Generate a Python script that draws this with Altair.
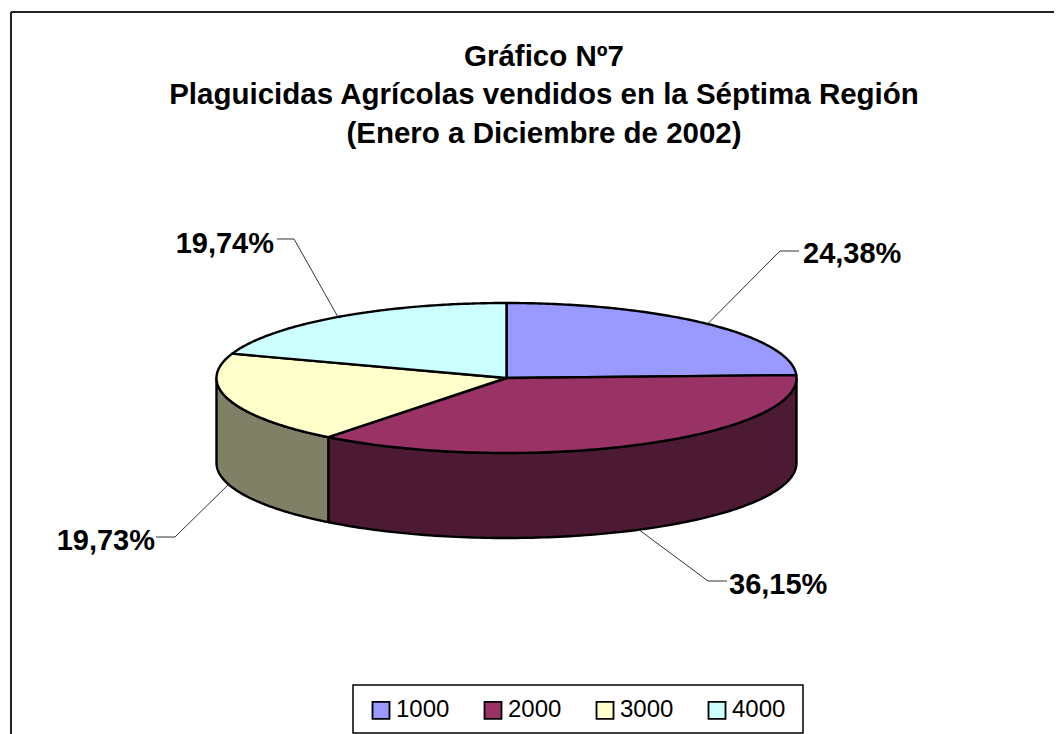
import numpy as np
import pandas as pd
import altair as alt

series = ["1000", "2000", "3000", "4000"]
shares = [24.38, 36.15, 19.73, 19.74]
labels = ["24,38%", "36,15%", "19,73%", "19,74%"]
top_colors = ["#9999FF", "#993366", "#FFFFCC", "#CCFFFF"]
side_colors = ["#4D4D80", "#4C1A33", "#808066", "#668080"]
title_lines = [
    "Gráfico Nº7",
    "Plaguicidas Agrícolas vendidos en la Séptima Región",
    "(Enero a Diciembre de 2002)",
]

CX, CY, RX, RY, DEPTH = 506.5, 378.0, 290.0, 75.0, 85.0
W, H = 1054, 734

label_pos = [
    dict(x=803, y=254, align="left", elbow=(780, 251), end=(799, 251), front=False),
    dict(x=729, y=585, align="left", elbow=(708, 581), end=(727, 581), front=True),
    dict(x=155, y=541, align="right", elbow=(175, 537), end=(156, 537), front=True),
    dict(x=274, y=244, align="right", elbow=(294, 239), end=(277, 239), front=False),
]


def ell(t, drop=0.0):
    r = np.radians(t)
    return CX + RX * np.sin(r), CY - RY * np.cos(r) + drop


xs = alt.X("x:Q", scale=alt.Scale(domain=[8, W]), axis=None)
ys = alt.Y("y:Q", scale=alt.Scale(domain=[H, 8]), axis=None)

edges = np.concatenate([[0], np.cumsum(shares) / sum(shares) * 360])

top_rows, layers = [], []
for i, s in enumerate(series):
    a, b = edges[i], edges[i + 1]
    ts = np.linspace(a, b, 120)
    px, py = ell(ts)
    pts = [(CX, CY)] + list(zip(px, py)) + [(CX, CY)]
    for k, (x, y) in enumerate(pts):
        top_rows.append(dict(serie=s, x=x, y=y, k=k))
    lo, hi = max(a, 90), min(b, 270)
    if lo < hi:
        ts = np.linspace(lo, hi, 120)
        ux, uy = ell(ts)
        dx, dy = ell(ts[::-1], DEPTH)
        poly = list(zip(ux, uy)) + list(zip(dx, dy)) + [(ux[0], uy[0])]
        df = pd.DataFrame([dict(x=x, y=y, k=k) for k, (x, y) in enumerate(poly)])
        layers.append(
            alt.Chart(df)
            .mark_line(fill=side_colors[i], stroke="#000000", strokeWidth=2.4, strokeJoin="round")
            .encode(x=xs, y=ys, order="k:Q")
        )

tops = (
    alt.Chart(pd.DataFrame(top_rows))
    .mark_line(stroke="#000000", strokeWidth=2.4, strokeJoin="round")
    .encode(
        x=xs,
        y=ys,
        order="k:Q",
        detail="serie:N",
        fill=alt.Fill(
            "serie:N",
            scale=alt.Scale(domain=series, range=top_colors),
            legend=alt.Legend(
                title=None,
                orient="none",
                legendX=361,
                legendY=690,
                direction="horizontal",
                columns=4,
                columnPadding=30,
                symbolType="square",
                symbolSize=289,
                symbolStrokeColor="#000000",
                symbolStrokeWidth=1.8,
                symbolOffset=0,
                labelFont="Liberation Sans",
                labelFontSize=24,
                labelColor="#000000",
                labelOffset=3,
                padding=0,
            ),
        ),
    )
)
layers.append(tops)

# legend frame
layers.append(
    alt.Chart(pd.DataFrame([dict(x=353, x2=803, y=685, y2=733)]))
    .mark_rect(filled=False, stroke="#000000", strokeWidth=1.5)
    .encode(x=xs, y=ys, x2="x2:Q", y2="y2:Q")
)

lead_rows = []
for i, p in enumerate(label_pos):
    mid = (edges[i] + edges[i + 1]) / 2
    ax, ay = ell(mid, DEPTH if p["front"] else 0)
    for k, (x, y) in enumerate([(ax, ay), p["elbow"], p["end"]]):
        lead_rows.append(dict(serie=series[i], x=x, y=y, k=k))
    layers.append(
        alt.Chart(pd.DataFrame([dict(x=p["x"], y=p["y"], t=labels[i])]))
        .mark_text(
            font="Liberation Sans",
            fontWeight="bold",
            fontSize=29,
            color="#000000",
            align=p["align"],
            baseline="middle",
        )
        .encode(x=xs, y=ys, text="t:N")
    )

layers.append(
    alt.Chart(pd.DataFrame(lead_rows))
    .mark_line(stroke="#333333", strokeWidth=1)
    .encode(x=xs, y=ys, order="k:Q", detail="serie:N")
)

# chart frame: top and left edges only are in view
layers.append(
    alt.Chart(pd.DataFrame([dict(x=11, y=12, x2=W, y2=12), dict(x=11, y=12, x2=11, y2=H)]))
    .mark_rule(color="#222222", strokeWidth=2)
    .encode(x=xs, y=ys, x2="x2:Q", y2="y2:Q")
)

layers.append(
    alt.Chart(pd.DataFrame([dict(x=544, y=56.5 + 38.5 * j, t=t) for j, t in enumerate(title_lines)]))
    .mark_text(font="Liberation Sans", fontWeight="bold", fontSize=29.5, color="#000000", baseline="middle")
    .encode(x=xs, y=ys, text="t:N")
)

chart = (
    alt.layer(*layers)
    .properties(
        width=W - 8,
        height=H - 8,
        padding=0,
        autosize=alt.AutoSizeParams(type="none"),
        background="#ffffff",
    )
    .configure_view(stroke=None)
)

chart.save("out.html", embed_options={"renderer": "svg", "actions": False})
